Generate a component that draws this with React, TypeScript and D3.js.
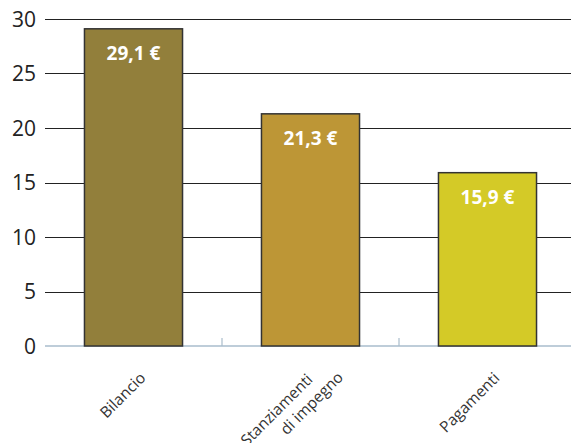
import React from "react";
import * as d3 from "d3";

const categories = ["Bilancio", "Stanziamenti\ndi impegno", "Pagamenti"];
const values = [29.1, 21.3, 15.9];
const valueLabels = ["29,1 €", "21,3 €", "15,9 €"];
const colors = ["#927f3b", "#bd9636", "#d4ca27"];
const yTicks = [0, 5, 10, 15, 20, 25, 30];

const W = 571;
const H = 443;
const FONT = "'Open Sans', 'Noto Sans', sans-serif";

export default function App() {
  const x = d3.scaleBand<string>().domain(categories).range([45, 576]).paddingInner(0.446).paddingOuter(0.223);
  const y = d3.scaleLinear().domain([0, 30]).range([346, 19]);
  const step = x.step();
  const boundaries = categories.slice(1).map((c) => (x(c) as number) - x.paddingInner() * step / 2);

  return (
    <svg width={W} height={H} style={{ position: "absolute", left: 0, top: 0, background: "#fff" }}>
      {yTicks.filter((t) => t > 0).map((t) => (
        <line key={t} x1={45} x2={W} y1={Math.round(y(t)) + 0.5} y2={Math.round(y(t)) + 0.5} stroke="#222" strokeWidth={1} />
      ))}
      {yTicks.map((t) => (
        <text key={"l" + t} x={36} y={y(t)} dy="0.36em" textAnchor="end" fontFamily={FONT} fontSize={21} fill="#222">
          {t}
        </text>
      ))}
      <line x1={45} x2={W} y1={y(0)} y2={y(0)} stroke="#a9bccc" strokeWidth={1.5} />
      {boundaries.map((bx, i) => (
        <line key={"tk" + i} x1={bx} x2={bx} y1={y(0)} y2={y(0) - 8} stroke="#a9bccc" strokeWidth={1.2} />
      ))}
      {categories.map((c, i) => (
        <rect
          key={c}
          x={x(c)}
          y={y(values[i])}
          width={x.bandwidth()}
          height={y(0) - y(values[i])}
          fill={colors[i]}
          stroke="#333"
          strokeWidth={1.5}
        />
      ))}
      {categories.map((c, i) => (
        <text
          key={"v" + c}
          x={(x(c) as number) + x.bandwidth() / 2}
          y={y(values[i]) + 31}
          textAnchor="middle"
          fontFamily={FONT}
          fontWeight="bold"
          fontSize={19}
          fill="#fff"
        >
          {valueLabels[i]}
        </text>
      ))}
      {categories.map((c, i) => {
        const cx = (x(c) as number) + x.bandwidth() / 2;
        const lines = c.split("\n");
        return (
          <g key={"x" + c} transform={`translate(${cx + 13},379) rotate(-45)`}>
            {lines.length === 1 ? (
              <text textAnchor="end" fontFamily={FONT} fontSize={15.5} fill="#333">
                {lines[0]}
              </text>
            ) : (
              lines.map((ln, j) => (
                <text
                  key={j}
                  x={j === 0 ? -8 : 15}
                  y={j === 0 ? -6 : 14}
                  textAnchor="end"
                  fontFamily={FONT}
                  fontSize={15.5}
                  fill="#333"
                >
                  {ln}
                </text>
              ))
            )}
          </g>
        );
      })}
    </svg>
  );
}
